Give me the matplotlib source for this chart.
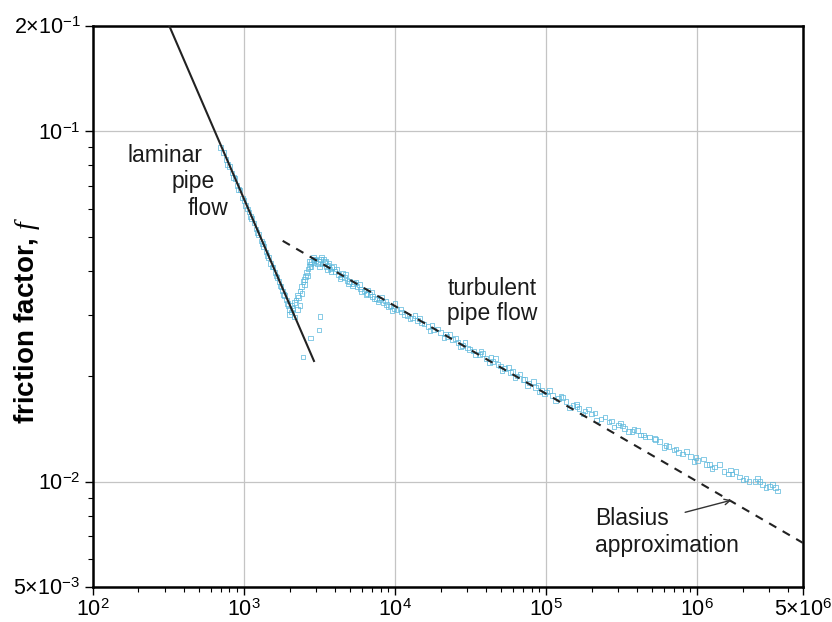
import matplotlib
matplotlib.use('Agg')
import matplotlib.pyplot as plt

plt.rcParams['font.family'] = ['Liberation Sans', 'DejaVu Sans']
plt.rcParams['mathtext.fontset'] = 'custom'
plt.rcParams['mathtext.rm'] = 'Liberation Sans'
plt.rcParams['mathtext.it'] = 'Liberation Serif:italic'
plt.rcParams['mathtext.bf'] = 'Liberation Sans:bold'

lam_re = [700, 730, 760, 800, 830, 870, 900, 940, 980, 1000, 1050, 1080, 1120, 1160,
          1200, 1250, 1300, 1350, 1400, 1450, 1500, 1550, 1600, 1650, 1700, 1750,
          1800, 1850, 1900, 1950, 2000,
          780, 850, 920, 1020, 1100, 1220, 1320, 1420, 1530, 1630, 1730, 1830, 1930]
lam_f = [0.090, 0.087, 0.083, 0.0795, 0.076, 0.0735, 0.070, 0.068, 0.0645, 0.0635,
         0.060, 0.0588, 0.0565, 0.0548, 0.0527, 0.0508, 0.0486, 0.0470, 0.0452,
         0.0437, 0.0420, 0.0410, 0.0396, 0.0382, 0.0372, 0.0360, 0.0350, 0.0340,
         0.0330, 0.0318, 0.0310,
         0.0805, 0.0740, 0.0682, 0.0615, 0.0572, 0.0515, 0.0478, 0.0443, 0.0410,
         0.0386, 0.0362, 0.0342, 0.0322]

trans_re = [2000, 2050, 2080, 2100, 2150, 2200, 2250, 2300, 2350, 2400, 2450, 2500,
            2550, 2600, 2650, 2700, 2750, 2800, 2850, 2900, 2950, 3000, 3050,
            2150, 2250, 2350, 2420, 2520, 2620, 2720, 2780, 2880,
            3180, 3140, 2740, 2460]
trans_f = [0.0300, 0.0305, 0.0318, 0.0312, 0.0325, 0.0330, 0.0340, 0.0335, 0.0350,
           0.0360, 0.0372, 0.0365, 0.0385, 0.0395, 0.0405, 0.0412, 0.0418, 0.0425,
           0.0430, 0.0422, 0.0432, 0.0428, 0.0420,
           0.0295, 0.0310, 0.0318, 0.0345, 0.0378, 0.0388, 0.0425, 0.0410, 0.0438,
           0.0296, 0.0271, 0.0257, 0.0227]

turb_re = [3100, 3200, 3300, 3400, 3500, 3600, 3700, 3800, 4000, 4200, 4400, 4600,
           4800, 5000, 5300, 5600, 5900, 6200, 6500, 6800, 7100, 7500, 7900, 8300,
           8800, 9300, 9800, 10300, 11000, 12000, 13000, 14000, 15000, 16500, 18000,
           20000, 22000, 24000, 26000, 28000, 30000, 33000, 36000, 40000, 44000,
           48000, 53000, 58000, 64000, 70000, 77000, 85000, 93000, 100000, 110000,
           120000, 135000, 150000, 165000, 180000, 200000, 230000, 260000, 300000,
           330000, 370000, 420000, 480000, 560000, 620000, 700000, 800000, 900000,
           1000000, 1150000, 1300000, 1500000, 1700000, 1900000, 2100000, 2400000,
           2700000, 3000000, 3300000]
turb_f = [0.0425, 0.0430, 0.0418, 0.0422, 0.0412, 0.0415, 0.0405, 0.0408, 0.0398,
          0.0390, 0.0385, 0.0382, 0.0375, 0.0372, 0.0368, 0.0360, 0.0355, 0.0350,
          0.0345, 0.0342, 0.0338, 0.0332, 0.0330, 0.0325, 0.0320, 0.0317, 0.0312,
          0.0310, 0.0305, 0.0298, 0.0293, 0.0288, 0.0284, 0.0277, 0.0271, 0.0266,
          0.0260, 0.0255, 0.0250, 0.0245, 0.0241, 0.0236, 0.0231, 0.0225, 0.0220,
          0.0216, 0.0210, 0.0205, 0.0200, 0.0196, 0.0191, 0.0186, 0.0182, 0.0180,
          0.0176, 0.0173, 0.0169, 0.0165, 0.0162, 0.0159, 0.0156, 0.0151, 0.0148,
          0.0145, 0.0142, 0.0139, 0.0136, 0.0134, 0.0130, 0.0127, 0.0123, 0.0120,
          0.0118, 0.0115, 0.0112, 0.0110, 0.0107, 0.0105, 0.0103, 0.0102, 0.0100,
          0.0098, 0.0097, 0.0096]

turb2_re = [3150, 3350, 3550, 3900, 4300, 4700, 5200, 5800, 6400, 7000, 7700, 8600,
            9500, 10800, 12500, 14500, 17000, 19000, 21000, 23000, 27000, 29000,
            34000, 38000, 42000, 46000, 51000, 56000, 62000, 67000, 75000, 82000,
            90000, 105000, 115000, 128000, 142000, 158000, 175000, 190000, 215000,
            245000, 280000, 310000, 350000, 400000, 450000, 520000, 650000, 750000,
            850000, 950000, 1100000, 1250000, 1400000, 1600000, 1800000, 2200000,
            2500000, 2850000, 3150000]
turb2_f = [0.0410, 0.0432, 0.0402, 0.0412, 0.0380, 0.0390, 0.0362, 0.0365, 0.0342,
           0.0348, 0.0326, 0.0328, 0.0308, 0.0311, 0.0292, 0.0292, 0.0270, 0.0273,
           0.0258, 0.0263, 0.0243, 0.0250, 0.0230, 0.0232, 0.0218, 0.0225, 0.0208,
           0.0212, 0.0198, 0.0203, 0.0188, 0.0193, 0.0180, 0.0182, 0.0170, 0.0174,
           0.0163, 0.0166, 0.0156, 0.0161, 0.0150, 0.0153, 0.0143, 0.0147, 0.0139,
           0.0140, 0.0134, 0.0133, 0.0126, 0.0121, 0.0122, 0.0114, 0.0116, 0.0109,
           0.0112, 0.0105, 0.0107, 0.0100, 0.0102, 0.0096, 0.0098]

turb3_re = [3250, 3450, 3650, 3750, 4100, 4500, 4900, 5500, 6000, 6600, 7300, 8100,
            9000, 10000, 11500, 13500, 15500, 17500, 21500, 25000, 31000, 37000,
            43000, 50000, 60000, 72000, 88000, 97000, 125000, 160000, 210000, 270000,
            320000, 380000, 440000, 530000, 600000, 720000, 980000, 1200000, 1650000,
            2000000, 2600000, 3400000]
turb3_f = [0.0438, 0.0425, 0.0420, 0.0398, 0.0405, 0.0393, 0.0368, 0.0370, 0.0349,
           0.0352, 0.0333, 0.0336, 0.0316, 0.0322, 0.0300, 0.0298, 0.0282, 0.0280,
           0.0264, 0.0256, 0.0238, 0.0235, 0.0226, 0.0214, 0.0206, 0.0196, 0.0188,
           0.0178, 0.0175, 0.0164, 0.0157, 0.0149, 0.0144, 0.0141, 0.0136, 0.0132,
           0.0125, 0.0124, 0.0117, 0.0112, 0.0108, 0.0101, 0.0100, 0.0094]

# theory lines (straight on log-log, so the end points are enough)
laminar_re = [320, 2900]
laminar_f = [0.2, 0.0221]
blasius_re = [1800, 5e6]
blasius_f = [0.0487, 0.00668]

xticks = [1e2, 1e3, 1e4, 1e5, 1e6, 5e6]
xlabels = ['$10^{2}$', '$10^{3}$', '$10^{4}$', '$10^{5}$', '$10^{6}$', '5\u00d7$10^{6}$']
yticks = [5e-3, 1e-2, 1e-1, 2e-1]
ylabels = ['5\u00d7$10^{-3}$', '$10^{-2}$', '$10^{-1}$', '2\u00d7$10^{-1}$']

cyan = '#5bb8dc'

fig = plt.figure(figsize=(8.32, 6.22), dpi=100)
ax = fig.add_axes([0.1118, 0.0563, 0.8533, 0.9019])
ax.set_xscale('log')
ax.set_yscale('log')
ax.set_xlim(1e2, 5e6)
ax.set_ylim(5e-3, 2e-1)

sets = [(lam_re, lam_f), (trans_re, trans_f), (turb_re, turb_f),
        (turb2_re, turb2_f), (turb3_re, turb3_f)]
for re, f in sets:
    ax.scatter(re, f, s=11, marker='s', facecolors='none', edgecolors=cyan,
               linewidths=0.6, alpha=0.85, zorder=2)

ax.plot(laminar_re, laminar_f, color='#222222', lw=1.5, zorder=3)
ax.plot(blasius_re, blasius_f, color='#222222', lw=1.5, ls=(0, (4, 3.5)), zorder=3)

ax.set_xticks(xticks)
ax.set_xticklabels(xlabels)
ax.set_yticks(yticks)
ax.set_yticklabels(ylabels)
ax.tick_params(which='major', direction='out', length=6, width=1, labelsize=15.5,
               top=False, right=False, pad=3)
ax.tick_params(which='minor', direction='out', length=3.5, width=0.8,
               top=False, right=False, labelleft=False, labelbottom=False)
ax.grid(True, which='major', color='#c4c4c4', lw=0.9)
ax.set_axisbelow(True)
for sp in ax.spines.values():
    sp.set_linewidth(1.8)

ax.set_ylabel(r'friction factor, $f$', fontsize=20, fontweight='bold')
ax.yaxis.set_label_coords(-0.072, 0.475)

fs = 16.5
ax.text(168, 0.0817, 'laminar', fontsize=fs, va='baseline', color='#1a1a1a')
ax.text(333, 0.0689, 'pipe', fontsize=fs, va='baseline', color='#1a1a1a')
ax.text(420, 0.0577, 'flow', fontsize=fs, va='baseline', color='#1a1a1a')
ax.text(22100, 0.0341, 'turbulent', fontsize=fs, va='baseline', color='#1a1a1a')
ax.text(22100, 0.0289, 'pipe flow', fontsize=fs, va='baseline', color='#1a1a1a')
ax.text(211000, 0.0075, 'Blasius', fontsize=fs, va='baseline', color='#1a1a1a')
ax.text(211000, 0.00628, 'approximation', fontsize=fs, va='baseline', color='#1a1a1a')
ax.annotate('', xy=(1.68e6, 0.00885), xytext=(8.3e5, 0.00817),
            arrowprops=dict(arrowstyle='->', color='#333333', lw=1.0,
                            shrinkA=0, shrinkB=0))

fig.savefig('out.png', dpi=100)
